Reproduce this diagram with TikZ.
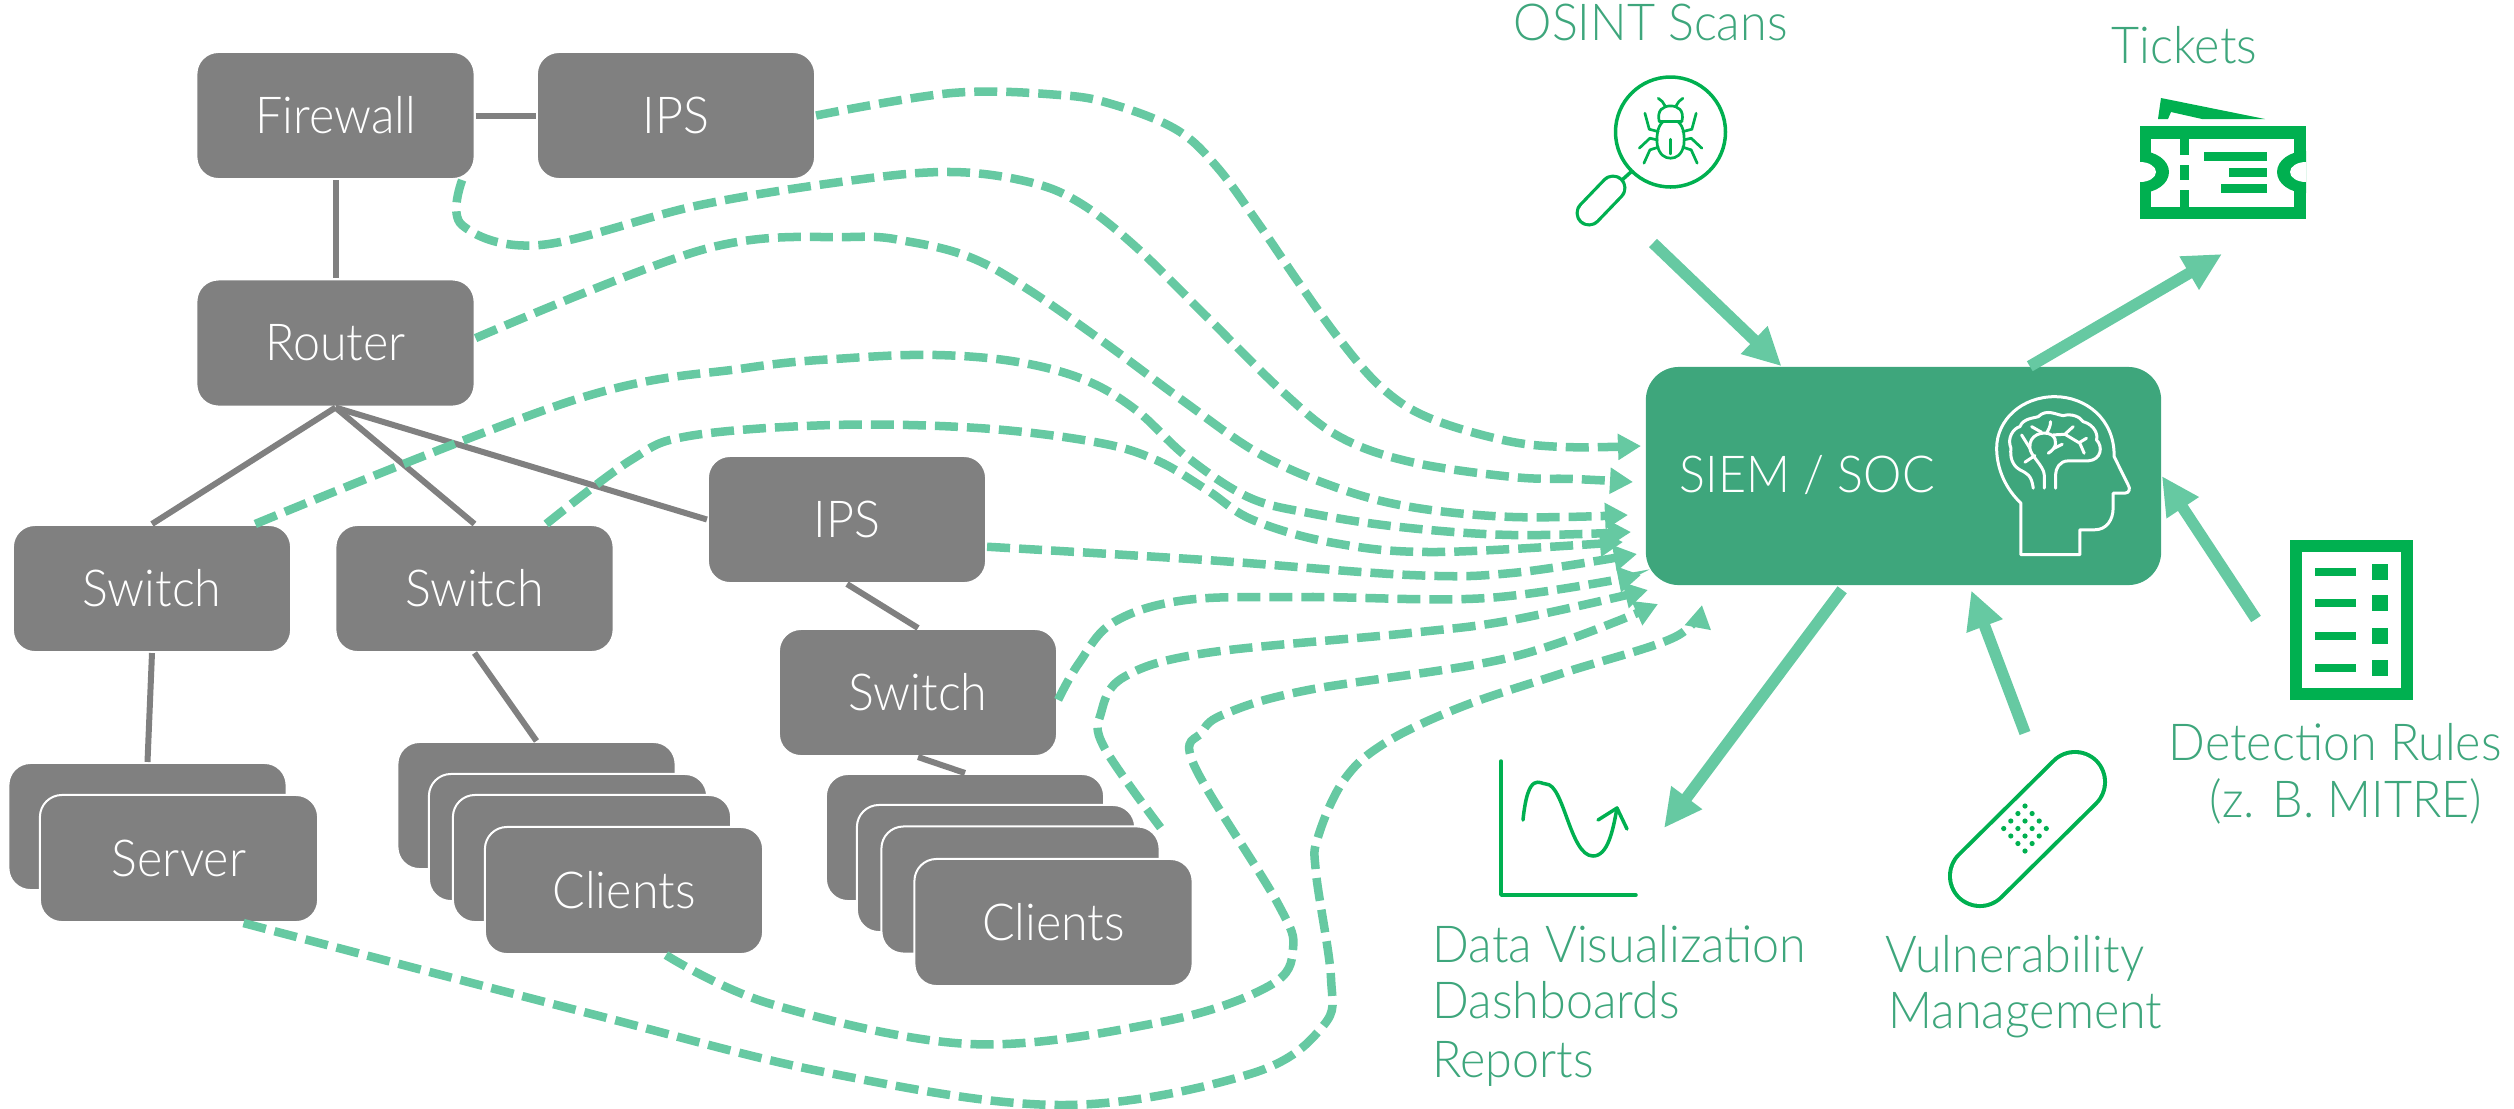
\documentclass[tikz,border=0pt]{standalone}
\usepackage{fontspec}
\setmainfont[FakeStretch=0.95]{Lato Light}
\usetikzlibrary{arrows.meta}
\definecolor{devicegray}{HTML}{808080}
\definecolor{socgreen}{HTML}{3EA67C}
\definecolor{flowgreen}{HTML}{66C9A2}
\definecolor{icongreen}{HTML}{00B050}
\tikzset{
	device/.style={shape=rectangle,rounded corners=0.22cm,fill=devicegray,draw=white,line width=0.02cm,text=white,minimum width=2.78cm,minimum height=1.27cm,inner sep=0pt,font=\fontsize{14.5}{17}\selectfont},
	soc/.style={shape=rectangle,rounded corners=0.33cm,fill=socgreen,minimum width=5.15cm,minimum height=2.18cm},
	caption/.style={anchor=base west,inner sep=0pt,text=socgreen,font=\fontsize{14.5}{17}\selectfont},
	wire/.style={draw=devicegray,line width=0.06cm},
	flow/.style={draw=flowgreen,line width=0.085cm,dash pattern=on 0.23cm off 0.09cm,-{Triangle[length=0.23cm,width=0.25cm]}},
	feed/.style={draw=flowgreen,line width=0.115cm,-{Triangle[length=0.38cm,width=0.36cm]}},
	icon/.style={draw=icongreen,line width=0.035cm,line cap=round,line join=round},
	brainline/.style={draw=white,line width=0.03cm,line cap=round,line join=round}
}
\begin{document}
\begin{tikzpicture}[x=0.01cm,y=-0.01cm]
	\useasboundingbox (0,0) rectangle (2514,1108);

	\node[device] (firewall) at (335.5,115.5) {Firewall};
	\node[device] (ipsa) at (676,115.5) {IPS};
	\node[device] (router) at (335.5,343) {Router};
	\node[device] (switcha) at (152,588.5) {Switch};
	\node[device] (switchb) at (474.5,588.5) {Switch};
	\node[device] (ipsb) at (847,519.5) {IPS};
	\node[device] (switchc) at (918,692.5) {Switch};
	\node[device] (servera) at (147.5,826.5) {};
	\node[device] (serverb) at (179,858.5) {Server};
	\node[device] (clientsa) at (536.5,805.5) {};
	\node[device] (clientsb) at (568,837.5) {};
	\node[device] (clientsc) at (592,858.5) {};
	\node[device] (clientsd) at (624,890.5) {Clients};
	\node[device] (clientse) at (965,837.5) {};
	\node[device] (clientsf) at (996,868.5) {};
	\node[device] (clientsg) at (1020.5,890) {};
	\node[device] (clientsh) at (1053.5,922.5) {Clients};
	\node[soc] (siem) at (1903.5,476) {};
	\node[anchor=base west,inner sep=0pt,text=white,font=\fontsize{14.5}{17}\selectfont] (siemlabel) at (1679,492) {SIEM / SOC};

	\path[wire] (firewall) edge (ipsa);
	\path[wire] (firewall) edge (router);
	\path[wire] (router.south) edge (switcha.north);
	\path[wire] (router.south) edge (switchb.north);
	\path[wire] (router.south) edge (ipsb.west);
	\path[wire] (switcha.south) edge (servera.north);
	\path[wire] (switchb.south) edge (clientsa.north);
	\path[wire] (ipsb.south) edge (switchc.north);
	\path[wire] (switchc.south) edge (clientse.north);

	\coordinate (ina) at (1641,446);
	\coordinate (inb) at (1633,482);
	\coordinate (inc) at (1628,515);
	\coordinate (ind) at (1631,532);
	\coordinate (ine) at (1623,542);
	\coordinate (inf) at (1637,554);
	\coordinate (ing) at (1641,575);
	\coordinate (inh) at (1648,590);
	\coordinate (ini) at (1658,604);
	\coordinate (inj) at (1702,605);

	\draw[flow] plot[smooth,tension=0.6] coordinates {(ipsa.east) (952,93) (1060,95) (1115,105) (1177,130) (1217,167) (1258,223) (1299,283) (1340,340) (1381,387) (1427,417) (1503,440) (1564,447) (ina)};
	\draw[flow] plot[smooth,tension=0.6] coordinates {(firewall.-27.5) (462,225) (540,245) (700,205) (855,180) (952,172) (1029,182) (1080,203) (1136,247) (1207,317) (1284,393) (1340,437) (1411,462) (1513,477) (1574,479) (inb)};
	\draw[flow] plot[smooth,tension=0.6] coordinates {(router.2.5) (705,249) (850,237) (911,242) (972,258) (1029,290) (1105,343) (1182,400) (1258,453) (1335,487) (1411,507) (1513,517) (inc)};
	\draw[flow] plot[smooth,tension=0.6] coordinates {(switcha.32.5) (574,400) (746,368) (850,358) (937,355) (1018,362) (1085,380) (1136,410) (1187,457) (1248,497) (1309,513) (1400,527) (1512,535) (ind)};
	\draw[flow] plot[smooth,tension=0.6] coordinates {(switchb.42) (631,460) (689,436) (832,425) (978,428) (1095,442) (1156,460) (1207,490) (1253,520) (1334,543) (1436,552) (ine)};
	\draw[flow] plot[smooth,tension=0.6] coordinates {(ipsb.-11.4) (1206,560) (1410,575) (1512,573) (inf)};
	\draw[flow] plot[smooth,tension=0.6] coordinates {(switchc.-3) (1079,663) (1114,622) (1186,600) (1308,597) (1487,598) (ing)};
	\draw[flow] plot[smooth,tension=0.6] coordinates {(clientsg.24.9) (1104,747) (1101,713) (1124,677) (1206,653) (1410,633) (1512,620) (inh)};
	\draw[flow] plot[smooth,tension=0.6] coordinates {(clientsd.-57.4) (771,1004) (970,1044) (1161,1022) (1269,986) (1293,949) (1277,902) (1194,765) (1202,732) (1227,713) (1308,690) (1512,657) (ini)};
	\draw[flow] plot[smooth,tension=0.6] coordinates {(serverb.-45.7) (580,1011) (829,1073) (1061,1105) (1250,1074) (1323,1026) (1331,978) (1316,873) (1318,837) (1344,780) (1385,743) (1461,707) (1563,673) (1675,637) (inj)};

	\coordinate (osintend) at (1653,243);
	\coordinate (ticketend) at (2222,254);
	\coordinate (rulesend) at (2256,619);
	\coordinate (vulnend) at (2025,733);
	\coordinate (chartend) at (1664,828);
	\draw[feed] (osintend) -- (siem.138.6);
	\draw[feed] (siem.41.4) -- (ticketend);
	\draw[feed] (rulesend) -- (siem.east);
	\draw[feed,shorten >=0.05cm] (vulnend) -- (siem.301);
	\draw[feed,shorten <=0.05cm] (siem.242.2) -- (chartend);

	\node[caption] (osintlabel) at (1513,40) {OSINT Scans};
	\node[caption] (ticketlabel) at (2111,63) {Tickets};
	\node[caption] (ruleslabel) at (2168,760) {Detection Rules};
	\node[caption] (mitrelabel) at (2209,817) {(z. B. MITRE)};
	\node[caption] (datalabel) at (1432,962) {Data Visualization};
	\node[caption] (dashlabel) at (1432,1018) {Dashboards};
	\node[caption] (reportlabel) at (1432,1077) {Reports};
	\node[caption] (vulnlabel) at (1885,972) {Vulnerability};
	\node[caption] (mgmtlabel) at (1888,1028) {Management};

	% head with brain
	\begin{scope}[shift={(1985,385)},x=0.00333cm,y=-0.00333cm]
		\draw[brainline] (108,355) -- (108,510) -- (285,510) -- (285,435) -- (330,435) .. controls (365,435) and (385,405) .. (385,370) -- (385,325) -- (420,325) .. controls (435,325) and (437,310) .. (430,300) -- (388,215) .. controls (390,100) and (300,35) .. (210,35) .. controls (110,35) and (35,105) .. (35,190) .. controls (35,255) and (65,315) .. (108,355);
		\draw[brainline] (145,310) .. controls (140,270) and (125,265) .. (105,255) .. controls (80,240) and (75,215) .. (78,190) .. controls (65,160) and (85,130) .. (105,125) .. controls (115,100) and (145,100) .. (160,95) .. controls (185,70) and (215,90) .. (235,92) .. controls (260,85) and (285,95) .. (295,110) .. controls (330,120) and (340,150) .. (335,165) .. controls (355,185) and (350,225) .. (310,228) -- (250,228) .. controls (225,228) and (212,250) .. (212,270) -- (212,310);
		\draw[brainline] (178,310) -- (178,270) .. controls (178,245) and (135,210) .. (135,190) .. controls (130,150) and (175,135) .. (200,150) .. controls (220,165) and (215,190) .. (190,205);
		\draw[brainline] (110,150) -- (135,190);
		\draw[brainline] (120,232) -- (150,212);
		\draw[brainline] (140,125) -- (170,142);
		\draw[brainline] (197,110) .. controls (197,125) and (190,135) .. (185,145);
		\draw[brainline] (205,150) -- (240,148) -- (265,125);
		\draw[brainline] (240,148) -- (285,175) -- (298,205);
		\draw[brainline] (285,172) -- (305,160);
		\draw[brainline] (208,190) -- (232,178);
	\end{scope}

	% magnifier with bug
	\draw[icon] (1670.5,132) circle (55);
	\draw[icon] (1632,171) -- (1622,180);
	\draw[line width=0.27cm,line cap=round,draw=icongreen] (1613,188) -- (1589,213);
	\draw[line width=0.205cm,line cap=round,draw=white] (1613,188) -- (1589,213);
	\begin{scope}[shift={(1600,70)},x=0.00333cm,y=-0.00333cm]
		\draw[icon,line width=0.027cm] (178,155) .. controls (170,120) and (190,108) .. (212,108) .. controls (234,108) and (254,120) .. (246,155) -- cycle;
		\draw[icon,line width=0.027cm] (212,155) -- (190,155) .. controls (170,170) and (170,205) .. (172,225) .. controls (178,255) and (195,265) .. (212,265) .. controls (229,265) and (246,255) .. (252,225) .. controls (254,205) and (254,170) .. (234,155) -- cycle;
		\draw[icon,line width=0.027cm] (212,208) -- (212,252);
		\foreach \mirror/\base in {1/0,-1/424} {
			\begin{scope}[shift={(\base,0)},x=\mirror*0.00333cm]
				\draw[icon,line width=0.027cm] (175,85) .. controls (185,90) and (190,98) .. (195,107);
				\draw[icon,line width=0.027cm] (135,130) -- (148,178) -- (175,185);
				\draw[icon,line width=0.027cm] (118,235) -- (150,205) -- (172,210);
				\draw[icon,line width=0.027cm] (132,280) -- (150,240) -- (175,232);
			\end{scope}
		}
	\end{scope}

	% ticket
	\begin{scope}
		\clip (2140,126) rectangle (2306,219);
		\fill[icongreen] (2140,126) rectangle (2306,219);
		\fill[white] (2151,139) rectangle (2294,207);
		\fill[icongreen] (2140,172) ellipse (29 and 21);
		\fill[icongreen] (2306,172) ellipse (29 and 21);
		\fill[white] (2140,172) ellipse (16 and 10);
		\fill[white] (2306,172) ellipse (16 and 10);
	\end{scope}
	\fill[icongreen] (2180,139) rectangle (2189,155);
	\fill[icongreen] (2180,165) rectangle (2189,180);
	\fill[icongreen] (2180,190) rectangle (2189,207);
	\fill[icongreen] (2204,152) rectangle (2267,161);
	\fill[icongreen] (2229,168) rectangle (2267,177);
	\fill[icongreen] (2221,184) rectangle (2267,193);
	\fill[icongreen] (2161,98) -- (2265,119) -- (2202,119) -- (2171,112) -- (2168,119) -- (2158,119) -- cycle;

	% rules sheet
	\draw[draw=icongreen,line width=0.12cm] (2296,546) rectangle (2407,694);
	\foreach \rowy in {572,603,636,668} {
		\fill[icongreen] (2315,\rowy-4) rectangle (2356,\rowy+4);
		\fill[icongreen] (2372,\rowy-8) rectangle (2388,\rowy+8);
	}

	% chart
	\draw[icon] (1501,761) -- (1501,895) -- (1636,895);
	\draw[icon] (1523,820) .. controls (1528,770) and (1540,784) .. (1546,784) .. controls (1564,784) and (1570,856) .. (1593,856) .. controls (1608,856) and (1613,830) .. (1617,808);
	\draw[icon] (1598,820) -- (1617,808) -- (1627,829);

	% bandage
	\draw[line width=0.64cm,line cap=round,draw=icongreen] (2075,782) -- (1980,876);
	\draw[line width=0.56cm,line cap=round,draw=white] (2075,782) -- (1980,876);
	\foreach \i in {0,...,3} {
		\foreach \j in {0,...,3} {
			\fill[icongreen] ({2025+7.1*(\i-\j)},{806+7.5*(\i+\j)}) circle (2.6);
		}
	}
\end{tikzpicture}
\end{document}
